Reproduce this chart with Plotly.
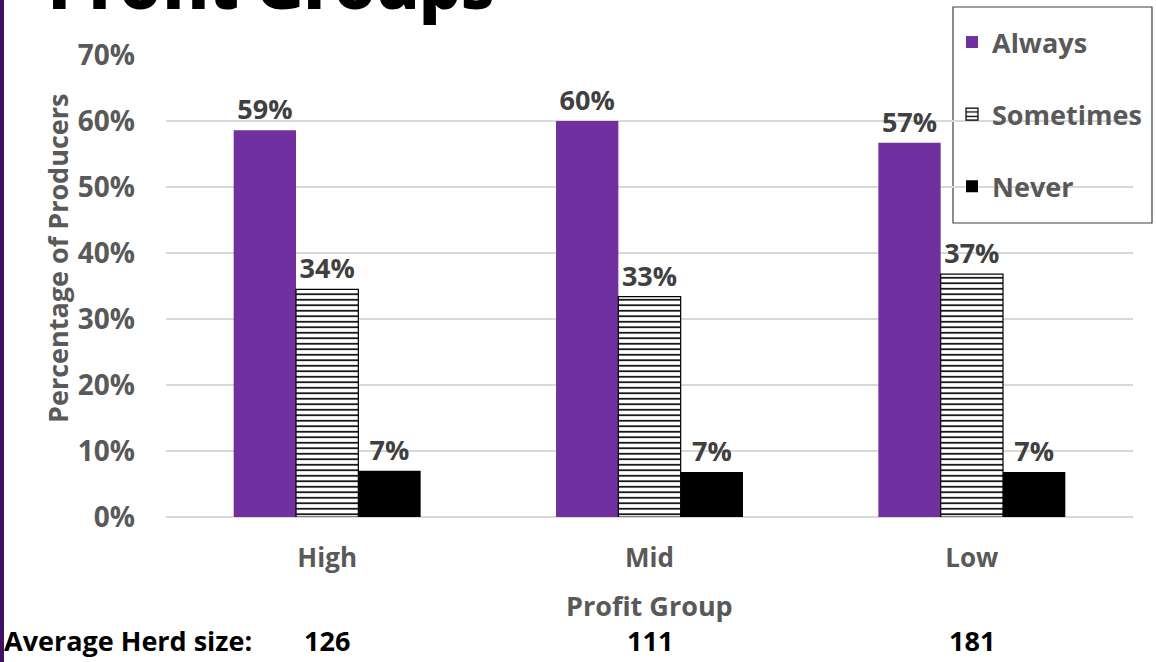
import plotly.graph_objects as go

categories = ["High", "Mid", "Low"]
always = [58.6, 60.0, 56.7]
sometimes = [34.5, 33.4, 36.8]
never = [7.0, 6.8, 6.8]
always_labels = ["59%", "60%", "57%"]
sometimes_labels = ["34%", "33%", "37%"]
never_labels = ["7%", "7%", "7%"]
herd_sizes = ["126", "111", "181"]
y_ticks = [0, 10, 20, 30, 40, 50, 60, 70]

W, H = 1156, 662
L, R, T, B = 166, 23, 55, 145
PW, PH = W - L - R, H - T - B

def px_x(px):
    return (px - L) / PW

def px_y(py):
    return (H - B - py) / PH

FONT = "'Open Sans', 'Noto Sans', sans-serif"
GRAY = "#595959"
LBL = "#404040"

fig = go.Figure()
fig.add_trace(go.Bar(
    name="Always", x=categories, y=always, text=always_labels,
    marker=dict(color="#7030A0", line=dict(width=0)),
    textposition="outside", legendgroup="a",
))
fig.add_trace(go.Bar(
    name="Sometimes", x=categories, y=sometimes, text=sometimes_labels,
    marker=dict(color="white", line=dict(color="black", width=1.2),
                pattern=dict(shape="-", fgcolor="black", bgcolor="white",
                             size=5.5, solidity=0.3, fillmode="replace")),
    textposition="outside", legendgroup="b",
))
fig.add_trace(go.Bar(
    name="Never", x=categories, y=never, text=never_labels,
    marker=dict(color="black", line=dict(width=0)),
    textposition="outside", legendgroup="c",
))
fig.update_traces(textfont=dict(family=FONT, size=27, color=LBL, weight="bold"),
                  cliponaxis=False)

fig.update_layout(
    width=W, height=H,
    margin=dict(l=L, r=R, t=T, b=B, autoexpand=False),
    paper_bgcolor="white", plot_bgcolor="white",
    barmode="group", bargap=0.42, bargroupgap=0,
    font=dict(family=FONT, color=GRAY),
    showlegend=True,
    legend=dict(
        x=px_x(952), y=px_y(18), xanchor="left", yanchor="top",
        borderwidth=0, bgcolor="rgba(0,0,0,0)",
        font=dict(family=FONT, size=27, color=GRAY, weight="bold"),
        traceorder="grouped", tracegroupgap=34,
        itemwidth=30,
    ),
    xaxis=dict(
        showgrid=False, showline=False, ticks="",
        tickfont=dict(family=FONT, size=26, color=GRAY, weight="bold"),
        ticklabelstandoff=23,
    ),
    yaxis=dict(
        range=[0, 70], tickvals=y_ticks,
        ticktext=[f"{v}%" for v in y_ticks],
        showgrid=True, gridcolor="#D9D9D9", gridwidth=1.5,
        zeroline=True, zerolinecolor="#D9D9D9", zerolinewidth=1.5,
        showline=False, ticks="",
        tickfont=dict(family=FONT, size=28, color=GRAY, weight="bold"),
        ticklabelstandoff=30,
    ),
)

annotations = [
    dict(text="Profit Groups", x=px_x(46), y=px_y(30), xref="paper", yref="paper",
         xanchor="left", yanchor="bottom", showarrow=False,
         font=dict(family=FONT, size=65, color="black", weight=800)),
    dict(text="Percentage of Producers", x=px_x(57), y=px_y(259), xref="paper", yref="paper",
         xanchor="center", yanchor="middle", textangle=-90, showarrow=False,
         font=dict(family=FONT, size=27, color=GRAY, weight="bold")),
    dict(text="Profit Group", x=px_x(649), y=px_y(605), xref="paper", yref="paper",
         xanchor="center", yanchor="middle", showarrow=False,
         font=dict(family=FONT, size=27, color=GRAY, weight="bold")),
    dict(text="Average Herd size:", x=px_x(2), y=px_y(640), xref="paper", yref="paper",
         xanchor="left", yanchor="middle", showarrow=False,
         font=dict(family=FONT, size=27, color="black", weight="bold")),
]
for cat, hs in zip(categories, herd_sizes):
    annotations.append(dict(text=hs, x=cat, y=px_y(640), xref="x", yref="paper",
                            xanchor="center", yanchor="middle", showarrow=False,
                            font=dict(family=FONT, size=27, color="black", weight="bold")))
fig.update_layout(annotations=annotations)

# legend frame
fig.add_shape(type="rect", xref="paper", yref="paper",
              x0=px_x(953), x1=px_x(1152), y0=px_y(223), y1=px_y(7),
              fillcolor="white", line=dict(color="#404040", width=1.2), layer="below")
# left border stripe
fig.add_shape(type="rect", xref="paper", yref="paper",
              x0=px_x(0), x1=px_x(4), y0=px_y(H), y1=px_y(0),
              fillcolor="#3E1260", line=dict(width=0), layer="above")

fig.write_html("out.html", config={"displayModeBar": False},
               post_script="document.body.style.margin='0';document.body.style.padding='0';")
